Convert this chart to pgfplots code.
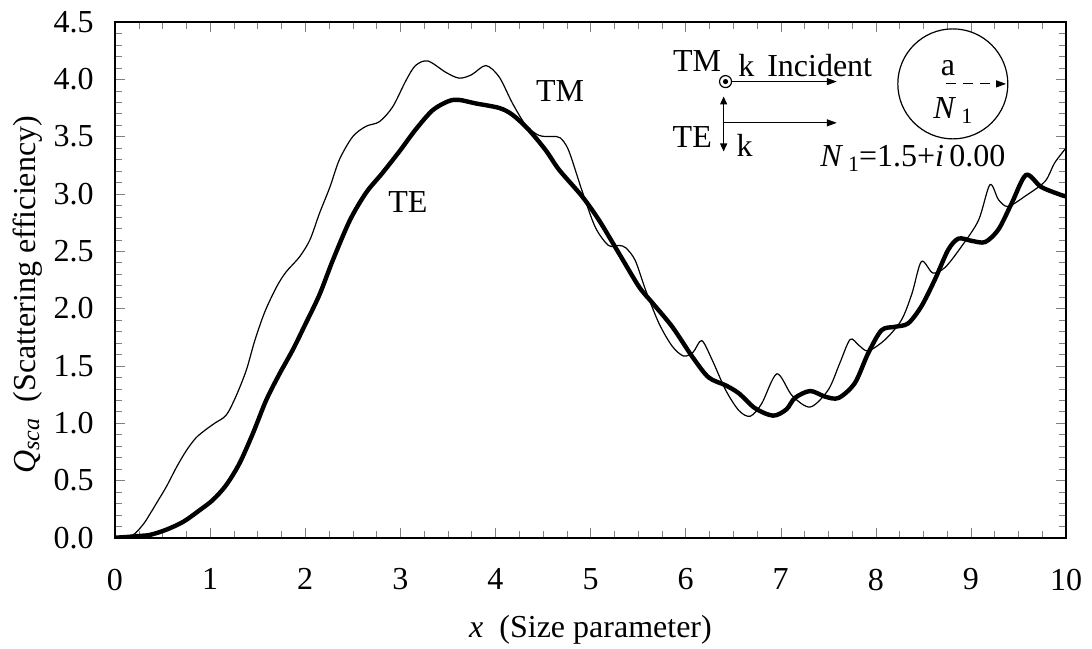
\documentclass[border=0pt]{standalone}
\usepackage{fontspec}
\setmainfont{Liberation Serif}
\usepackage{pgfplots}
\pgfplotsset{compat=1.18}
\usetikzlibrary{arrows.meta}
\newcommand{\fs}{\fontsize{16}{19}\selectfont}
\newcommand{\subfs}{\fontsize{11}{11}\selectfont}
\begin{document}
\begin{tikzpicture}
\path[use as bounding box] (-57.5pt,-55.15pt) rectangle (488.5pt,268.85pt);
\begin{axis}[
  at={(0pt,0pt)}, anchor=south west,
  scale only axis, width=475.5pt, height=257.85pt,
  xmin=0, xmax=10, ymin=0, ymax=4.5,
  xtick={0,1,2,3,4,5,6,7,8,9,10},
  ytick={0,0.5,1,1.5,2,2.5,3,3.5,4,4.5},
  minor x tick num=3, minor y tick num=4,
  tick align=inside, major tick length=5pt, minor tick length=3.5pt,
  font=\fs, tick label style={font=\fs},
  every node/.append style={font=\fs},
  /pgf/number format/assume math mode=true,
  yticklabel style={/pgf/number format/.cd,fixed,fixed zerofill,precision=1,/tikz/.cd,xshift=-7.2pt},
  xticklabel style={yshift=-12pt},
  clip mode=individual,
  axis line style={line width=0.8pt},
]
\addplot[black, line width=0.6pt, smooth] coordinates {
(0,0) (0.1,0.005) (0.2,0.03) (0.3,0.12) (0.37,0.21) (0.45,0.32) (0.54,0.445)
(0.65,0.62) (0.75,0.76) (0.85,0.87) (0.95,0.94) (1.05,1.00) (1.17,1.07)
(1.27,1.23) (1.38,1.46) (1.47,1.72) (1.575,1.97) (1.7,2.19) (1.8,2.32)
(1.94,2.45) (2.05,2.60) (2.15,2.83) (2.26,3.06) (2.36,3.30) (2.50,3.50)
(2.64,3.59) (2.78,3.63) (2.92,3.76) (3.06,3.99) (3.16,4.12) (3.29,4.16)
(3.48,4.06) (3.62,4.01) (3.75,4.04) (3.90,4.12) (4.04,4.02) (4.18,3.79)
(4.32,3.60) (4.46,3.51) (4.6,3.50) (4.68,3.49) (4.77,3.38) (4.91,3.03)
(5.05,2.71) (5.19,2.55) (5.3,2.55) (5.37,2.53) (5.47,2.42) (5.58,2.16)
(5.72,1.87) (5.86,1.67) (5.98,1.585) (6.08,1.62) (6.17,1.72) (6.28,1.55)
(6.42,1.29) (6.56,1.11) (6.68,1.06) (6.80,1.17) (6.96,1.43) (7.12,1.24)
(7.31,1.14) (7.50,1.29) (7.62,1.52) (7.73,1.73) (7.82,1.68) (7.92,1.63)
(8.10,1.73) (8.27,1.90) (8.38,2.13) (8.48,2.41) (8.60,2.31) (8.73,2.36)
(8.90,2.54) (9.08,2.77) (9.20,3.08) (9.29,2.95) (9.39,2.89) (9.57,2.98)
(9.78,3.11) (9.88,3.27) (10,3.40)
};
\addplot[black, line width=2.2pt, smooth] coordinates {
(0,0) (0.1,0.005) (0.25,0.015) (0.37,0.025) (0.54,0.07) (0.72,0.14)
(0.89,0.24) (1.03,0.33) (1.17,0.46) (1.31,0.65) (1.45,0.91) (1.59,1.20)
(1.73,1.43) (1.87,1.64) (2.0,1.86) (2.15,2.12) (2.29,2.42) (2.47,2.77)
(2.64,3.01) (2.81,3.18) (2.99,3.37) (3.16,3.56) (3.34,3.73) (3.51,3.81)
(3.62,3.82) (3.79,3.79) (4.04,3.75) (4.18,3.69) (4.35,3.56) (4.53,3.38)
(4.67,3.21) (4.91,2.98) (5.09,2.77) (5.30,2.48) (5.51,2.19) (5.65,2.05)
(5.86,1.84) (6.07,1.58) (6.24,1.40) (6.42,1.33) (6.56,1.26) (6.73,1.13)
(6.92,1.065) (7.06,1.12) (7.15,1.22) (7.31,1.28) (7.47,1.23) (7.61,1.22)
(7.78,1.35) (7.92,1.61) (8.06,1.81) (8.20,1.84) (8.34,1.87) (8.48,2.02)
(8.62,2.25) (8.76,2.51) (8.87,2.61) (9.01,2.59) (9.15,2.58) (9.29,2.69)
(9.43,2.92) (9.58,3.165) (9.74,3.06) (9.95,2.99) (10,2.98)
};
% axis labels
\node[anchor=base] at (axis cs:5,-0.875) {\textit{x}\ \ (Size parameter)};
\node[rotate=90, anchor=base] at (axis cs:-0.841,2.12)
  {\textit{Q}\raisebox{-2pt}{\fontsize{12}{12}\selectfont\itshape sca}\ \ (Scattering efficiency)};
% curve labels
\node at (axis cs:4.68,3.90) {TM};
\node at (axis cs:3.08,2.93) {TE};
% inset
\node at (axis cs:6.12,4.16) {TM};
\node[anchor=west, inner sep=0pt] at (axis cs:6.55,4.12) {k};
\node at (axis cs:7.41,4.12) {Incident};
\draw[line width=0.6pt] (axis cs:6.42,3.98) circle[radius=3pt];
\fill (axis cs:6.42,3.98) circle[radius=1.3pt];
\draw[line width=0.6pt, -{Triangle[length=5pt,width=3.5pt]}] (axis cs:6.48,3.98) -- (axis cs:7.59,3.98);
\draw[line width=0.6pt, {Triangle[length=4pt,width=3.5pt]}-{Triangle[length=4pt,width=3.5pt]}] (axis cs:6.40,3.85) -- (axis cs:6.40,3.37);
\draw[line width=0.6pt, -{Triangle[length=5pt,width=3.5pt]}] (axis cs:6.40,3.62) -- (axis cs:7.59,3.62);
\node at (axis cs:6.07,3.50) {TE};
\node at (axis cs:6.62,3.42) {k};
\draw[line width=0.6pt] (axis cs:8.81,3.96) circle[radius=27.5pt];
\node at (axis cs:8.76,4.10) {a};
\draw[line width=0.6pt, dash pattern=on 5pt off 3.5pt, -{Triangle[length=5pt,width=3.5pt]}] (axis cs:8.74,3.96) -- (axis cs:9.37,3.96);
\node at (axis cs:8.81,3.73) {\textit{N}\hspace{2.5pt}\raisebox{-2.5pt}{\subfs 1}};
\node at (axis cs:8.39,3.31) {\textit{N}\hspace{2.5pt}\raisebox{-2.5pt}{\subfs 1}=1.5+\textit{i}\,0.00};
\end{axis}
\end{tikzpicture}
\end{document}
